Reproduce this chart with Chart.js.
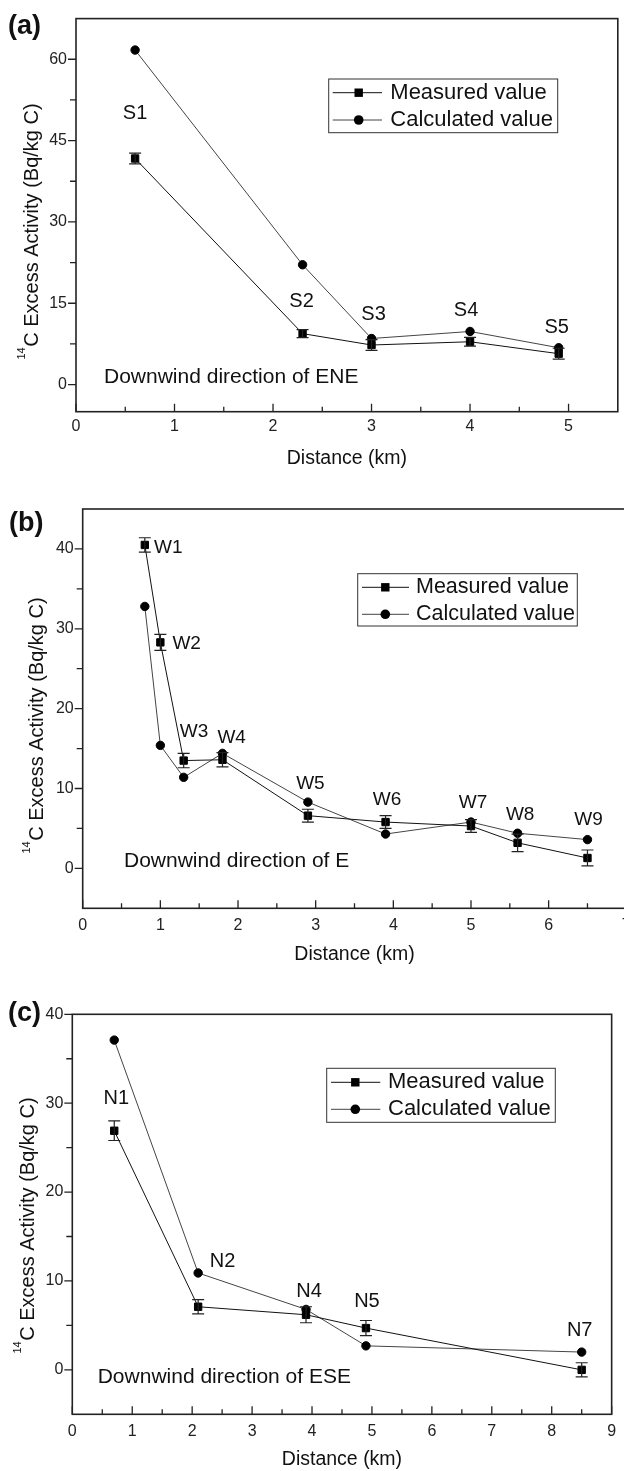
<!DOCTYPE html>
<html>
<head>
<meta charset="utf-8">
<script src="https://cdn.jsdelivr.net/npm/chart.js@4/dist/chart.umd.min.js"></script>
<style>
html,body{margin:0;padding:0;background:#fff;overflow:hidden;width:624px;height:1471px;position:relative;}
.box{position:absolute;left:0;}
canvas{display:block;}
</style>
</head>
<body>
<div class="box" style="top:0px"><canvas id="ca"></canvas></div>
<div class="box" style="top:480px"><canvas id="cb"></canvas></div>
<div class="box" style="top:970px"><canvas id="cc"></canvas></div>
<script>
// ---------- DATA ----------
// (a) Downwind direction of ENE
const distA  = [0.6, 2.3, 3.0, 4.0, 4.9];
const measA  = [41.7, 9.4, 7.3, 7.9, 5.7];
const errA   = [1.0, 0.75, 1.0, 0.8, 1.0];
const calcA  = [61.7, 22.1, 8.5, 9.8, 6.8];
const siteA  = ['S1', 'S2', 'S3', 'S4', 'S5'];
const xTicksA = [0, 1, 2, 3, 4, 5];
const yTicksA = [0, 15, 30, 45, 60];

// (b) Downwind direction of E
const distB  = [0.8, 1.0, 1.3, 1.8, 2.9, 3.9, 5.0, 5.6, 6.5];
const measB  = [40.5, 28.3, 13.5, 13.6, 6.6, 5.8, 5.3, 3.2, 1.3];
const errB   = [0.9, 1.0, 0.9, 0.9, 0.8, 0.8, 0.8, 1.1, 1.0];
const calcB  = [32.8, 15.4, 11.4, 14.4, 8.3, 4.3, 5.8, 4.4, 3.6];
const siteB  = ['W1', 'W2', 'W3', 'W4', 'W5', 'W6', 'W7', 'W8', 'W9'];
const xTicksB = [0, 1, 2, 3, 4, 5, 6, 7];
const yTicksB = [0, 10, 20, 30, 40];

// (c) Downwind direction of ESE
const distC  = [0.7, 2.1, 3.9, 4.9, 8.5];
const measC  = [26.9, 7.1, 6.2, 4.7, 0.0];
const errC   = [1.1, 0.8, 0.9, 0.85, 0.8];
const calcC  = [37.1, 10.9, 6.8, 2.7, 2.0];
const siteC  = ['N1', 'N2', 'N4', 'N5', 'N7'];
const xTicksC = [0, 1, 2, 3, 4, 5, 6, 7, 8, 9];
const yTicksC = [0, 10, 20, 30, 40];

const seriesNames = ['Measured value', 'Calculated value'];
const yTitleSup = '14';
const yTitleMain = 'C Excess Activity (Bq/kg C)';
const xTitle = 'Distance (km)';

// ---------- STYLE / LAYOUT ----------
const FF = '"Liberation Sans", Arial, Helvetica, sans-serif';
const INK = '#111';

function decorPlugin(s) {
  return {
    id: 'decor_' + s.panel,
    afterDatasetsDraw(chart) {
      const ctx = chart.ctx, xs = chart.scales.x, ys = chart.scales.y;
      ctx.save();
      ctx.strokeStyle = '#222';
      ctx.lineWidth = 1.2;
      s.err.forEach((e, i) => {
        const x = xs.getPixelForValue(s.dist[i]);
        const y1 = ys.getPixelForValue(s.meas[i] - e);
        const y2 = ys.getPixelForValue(s.meas[i] + e);
        ctx.beginPath();
        ctx.moveTo(x, y1); ctx.lineTo(x, y2);
        ctx.moveTo(x - 6, y1); ctx.lineTo(x + 6, y1);
        ctx.moveTo(x - 6, y2); ctx.lineTo(x + 6, y2);
        ctx.stroke();
      });
      ctx.restore();
    },
    afterDraw(chart) {
      const ctx = chart.ctx, xs = chart.scales.x, ys = chart.scales.y, ca = chart.chartArea;
      ctx.save();
      // frame
      ctx.strokeStyle = '#222';
      ctx.lineWidth = 1.6;
      ctx.strokeRect(ca.left, ca.top, ca.right - ca.left, ca.bottom - ca.top);
      // ticks
      ctx.lineWidth = 1.3;
      ctx.beginPath();
      s.xTicks.forEach(v => { const p = xs.getPixelForValue(v); ctx.moveTo(p, ca.bottom); ctx.lineTo(p, ca.bottom - 8); });
      for (let i = 0; i < s.xTicks.length - 1; i++) {
        const v = (s.xTicks[i] + s.xTicks[i + 1]) / 2;
        const p = xs.getPixelForValue(v); ctx.moveTo(p, ca.bottom); ctx.lineTo(p, ca.bottom - 5);
      }
      if (s.xMax > s.xTicks[s.xTicks.length - 1] + s.xStep / 2 + 0.01) {
        const p = xs.getPixelForValue(s.xTicks[s.xTicks.length - 1] + s.xStep / 2);
        ctx.moveTo(p, ca.bottom); ctx.lineTo(p, ca.bottom - 5);
      }
      s.yTicks.forEach(v => { const p = ys.getPixelForValue(v); ctx.moveTo(ca.left, p); ctx.lineTo(ca.left - 8, p); });
      for (let i = 0; i < s.yTicks.length - 1; i++) {
        const v = (s.yTicks[i] + s.yTicks[i + 1]) / 2;
        const p = ys.getPixelForValue(v); ctx.moveTo(ca.left, p); ctx.lineTo(ca.left - 6, p);
      }
      ctx.stroke();

      // site labels
      ctx.fillStyle = INK;
      ctx.font = s.siteFont + 'px ' + FF;
      ctx.textAlign = 'center';
      ctx.textBaseline = 'middle';
      s.sites.forEach((t, i) => {
        const x = xs.getPixelForValue(s.dist[i]) + s.siteOff[i][0];
        const y = ys.getPixelForValue(s.meas[i]) + s.siteOff[i][1];
        ctx.fillText(t, x, y);
      });

      // direction note
      ctx.textAlign = 'left';
      ctx.font = '21px ' + FF;
      ctx.fillText(s.note, s.notePos[0], s.notePos[1]);

      // panel letter
      ctx.font = 'bold 27px ' + FF;
      ctx.fillText(s.panel, s.panelPos[0], s.panelPos[1]);

      // x title
      ctx.textAlign = 'center';
      ctx.font = '19.5px ' + FF;
      ctx.fillText(xTitle, (ca.left + ca.right) / 2, s.xTitleY);

      // y title with superscript
      ctx.save();
      ctx.translate(s.yTitle[0], s.yTitle[1]);
      ctx.rotate(-Math.PI / 2);
      ctx.textAlign = 'left';
      ctx.textBaseline = 'alphabetic';
      ctx.font = '11px ' + FF;
      const wSup = ctx.measureText(yTitleSup).width;
      ctx.font = '20px ' + FF;
      const wMain = ctx.measureText(yTitleMain).width;
      const start = -(wSup + wMain) / 2;
      ctx.font = '11px ' + FF;
      ctx.fillText(yTitleSup, start, -13);
      ctx.font = '20px ' + FF;
      ctx.fillText(yTitleMain, start + wSup + 0.5, 0);
      ctx.restore();

      // legend
      const L = s.legend;
      ctx.strokeStyle = '#333';
      ctx.lineWidth = 1;
      ctx.strokeRect(L.x, L.y, L.w, L.h);
      chart.data.datasets.forEach((ds, i) => {
        const ry = L.rows[i];
        ctx.strokeStyle = ds.borderColor;
        ctx.lineWidth = 1;
        ctx.beginPath(); ctx.moveTo(L.line[0], ry); ctx.lineTo(L.line[1], ry); ctx.stroke();
        ctx.fillStyle = '#000';
        if (ds.pointStyle === 'rect') {
          ctx.fillRect(L.marker - 4.2, ry - 4.2, 8.4, 8.4);
        } else {
          ctx.beginPath(); ctx.arc(L.marker, ry, 4.8, 0, Math.PI * 2); ctx.fill();
        }
        ctx.fillStyle = INK;
        ctx.textAlign = 'left';
        ctx.textBaseline = 'middle';
        ctx.font = L.font + 'px ' + FF;
        ctx.fillText(ds.label, L.text, ry);
      });
      ctx.restore();
    }
  };
}

function buildChart(id, s) {
  const cv = document.getElementById(id);
  cv.width = s.w; cv.height = s.h;
  cv.style.width = s.w + 'px'; cv.style.height = s.h + 'px';
  const A = s.area;
  return new Chart(cv, {
    type: 'line',
    data: {
      datasets: [
        {
          label: seriesNames[0],
          data: s.dist.map((x, i) => ({ x: x, y: s.meas[i] })),
          borderColor: '#111', borderWidth: 1, tension: 0,
          pointStyle: 'rect', pointRadius: 5.2, pointBorderWidth: 1,
          pointBackgroundColor: '#000', pointBorderColor: '#000'
        },
        {
          label: seriesNames[1],
          data: s.dist.map((x, i) => ({ x: x, y: s.calc[i] })),
          borderColor: '#444', borderWidth: 1, tension: 0,
          pointStyle: 'circle', pointRadius: 4.2, pointBorderWidth: 1,
          pointBackgroundColor: '#000', pointBorderColor: '#000'
        }
      ]
    },
    options: {
      responsive: false,
      animation: false,
      devicePixelRatio: 1,
      layout: { padding: { top: A.top, right: s.w - A.right, left: 0, bottom: 0 } },
      plugins: { legend: { display: false }, tooltip: { enabled: false } },
      scales: {
        x: {
          type: 'linear', min: s.xMin, max: s.xMax,
          grid: { display: false, drawTicks: false }, border: { display: false },
          afterBuildTicks: sc => { sc.ticks = s.xTicks.map(v => ({ value: v })); },
          afterFit: sc => { sc.height = s.h - A.bottom; },
          ticks: { padding: s.xPad, color: '#222', font: { family: FF, size: 16 }, autoSkip: false, maxRotation: 0, minRotation: 0 }
        },
        y: {
          type: 'linear', min: s.yMin, max: s.yMax,
          grid: { display: false, drawTicks: false }, border: { display: false },
          afterBuildTicks: sc => { sc.ticks = s.yTicks.map(v => ({ value: v })); },
          afterFit: sc => { sc.width = A.left; },
          ticks: { padding: 9, color: '#222', font: { family: FF, size: 16 }, autoSkip: false }
        }
      }
    },
    plugins: [decorPlugin(s)]
  });
}

buildChart('ca', {
  panel: '(a)', w: 624, h: 480,
  area: { left: 76, top: 11.7, right: 619, bottom: 411.7 },
  dist: distA, meas: measA, err: errA, calc: calcA, sites: siteA,
  xTicks: xTicksA, yTicks: yTicksA, xMin: 0, xMax: 5.5, xStep: 1, yMin: -5, yMax: 67.5, xPad: 5.5,
  siteFont: 20,
  siteOff: [[0, -45], [-1, -31.7], [2, -31], [-4, -31.7], [-2, -26]],
  note: 'Downwind direction of ENE', notePos: [104, 377.5],
  panelPos: [8, 27], xTitleY: 459, yTitle: [37.5, 231.7],
  legend: { x: 328.7, y: 79, w: 229, h: 53.7, rows: [92.7, 120], line: [332.7, 382], marker: 358.7, text: 390.3, font: 22 }
});

buildChart('cb', {
  panel: '(b)', w: 640, h: 490,
  area: { left: 82.7, top: 29, right: 626.3, bottom: 428.3 },
  dist: distB, meas: measB, err: errB, calc: calcB, sites: siteB,
  xTicks: xTicksB, yTicks: yTicksB, xMin: 0, xMax: 7, xStep: 1, yMin: -5, yMax: 45, xPad: 7.2,
  siteFont: 19,
  siteOff: [[23.5, 3], [26.3, 1.6], [10.3, -28.4], [9.2, -22.2], [2.5, -31.8], [1.4, -22.5], [2, -23.2], [2.6, -28.2], [1, -38]],
  note: 'Downwind direction of E', notePos: [124, 381],
  panelPos: [9, 43.3], xTitleY: 475, yTitle: [43, 245.7],
  legend: { x: 357.7, y: 93.7, w: 219.6, h: 52.3, rows: [107.3, 134.3], line: [362, 409], marker: 385.3, text: 416, font: 21.5 }
});

buildChart('cc', {
  panel: '(c)', w: 624, h: 501,
  area: { left: 72.3, top: 44.3, right: 616.3, bottom: 444.3 },
  dist: distC, meas: measC, err: errC, calc: calcC, sites: siteC,
  xTicks: xTicksC, yTicks: yTicksC, xMin: 0, xMax: 9, xStep: 1, yMin: -5, yMax: 40, xPad: 7.9,
  siteFont: 20,
  siteOff: [[2, -32.3], [24.5, -44.8], [3, -23], [1, -27], [-2, -39.5]],
  note: 'Downwind direction of ESE', notePos: [97.7, 407.3],
  panelPos: [8, 43.3], xTitleY: 490, yTitle: [33.5, 255.7],
  legend: { x: 326.7, y: 98.3, w: 228.6, h: 54, rows: [112.3, 139.3], line: [331, 380.3], marker: 355.3, text: 388, font: 22 }
});
</script>
</body>
</html>
